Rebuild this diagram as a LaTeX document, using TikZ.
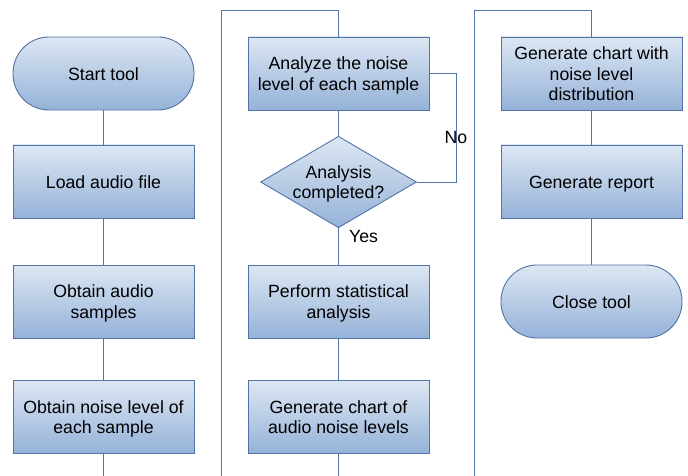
\documentclass[tikz,border=0pt]{standalone}
\usepackage{fontspec}
\setmainfont{Liberation Sans}
\usetikzlibrary{shapes.geometric}
\definecolor{edgeblue}{HTML}{5273A6}
\definecolor{filltop}{HTML}{DDE7F3}
\definecolor{fillbot}{HTML}{95B2D8}
\newcommand{\nodetxt}[1]{\raisebox{-6.8pt}[0pt][0pt]{\begin{tabular}{@{}c@{}}#1\end{tabular}}}
\tikzset{
  base/.style={draw=edgeblue, line width=0.9pt, top color=filltop, bottom color=fillbot,
    font=\fontsize{17.7}{20.5}\selectfont, inner sep=0pt},
  procbox/.style={base, rectangle, minimum width=181pt, minimum height=73pt},
  termbox/.style={base, rectangle, rounded corners=36pt, minimum width=181pt, minimum height=73pt},
  decbox/.style={base, diamond, minimum width=156pt, minimum height=90pt},
  conn/.style={draw=edgeblue, line width=0.9pt},
  lbl/.style={font=\fontsize{17.7}{20.5}\selectfont, inner sep=0pt}
}
\begin{document}
\begin{tikzpicture}[x=1pt, y=-1pt]
\useasboundingbox (0,0) rectangle (688,476);
% column 1
\node[termbox] (start) at (103.5,73.5) {\nodetxt{Start tool}};
\node[procbox] (load) at (103.5,181.5) {\nodetxt{Load audio file}};
\node[procbox] (samples) at (103.5,301.5) {\nodetxt{Obtain audio\\samples}};
\node[procbox] (noise) at (103.5,417) {\nodetxt{Obtain noise level of\\each sample}};
% column 2
\node[procbox] (analyze) at (338.5,73.5) {\nodetxt{Analyze the noise\\level of each sample}};
\node[decbox] (decision) at (338.5,182) {\nodetxt{Analysis\\completed?}};
\node[procbox] (stat) at (338.5,301.5) {\nodetxt{Perform statistical\\analysis}};
\node[procbox] (chartA) at (338.5,417) {\nodetxt{Generate chart of\\audio noise levels}};
% column 3
\node[procbox] (chartB) at (591.5,73.5) {\nodetxt{Generate chart with\\noise level\\distribution}};
\node[procbox] (report) at (591.5,181.5) {\nodetxt{Generate report}};
\node[termbox] (close) at (591.5,301.5) {\nodetxt{Close tool}};
% coordinates
\coordinate (b1) at (103.5,476);
\coordinate (b2) at (221,476);
\coordinate (t2) at (221,10);
\coordinate (b3) at (338.5,476);
\coordinate (b4) at (474,476);
\coordinate (t4) at (474,10);
\coordinate (nox) at (456,182);
% connectors
\draw[conn] (start) -- (load);
\draw[conn] (load) -- (samples);
\draw[conn] (samples) -- (noise);
\draw[conn] (noise) -- (b1);
\draw[conn] (b2) -- (t2) -| (analyze.north);
\draw[conn] (analyze) -- (decision);
\draw[conn] (decision.east) -- (nox) |- (analyze.east);
\draw[conn] (decision.south) -- (stat.north);
\draw[conn] (stat) -- (chartA);
\draw[conn] (chartA) -- (b3);
\draw[conn] (b4) -- (t4) -| (chartB.north);
\draw[conn] (chartB) -- (report);
\draw[conn] (report) -- (close);
% labels
\node[lbl] (nolbl) at (456,137) {No};
\node[lbl, anchor=west] (yeslbl) at (349,236) {Yes};
\end{tikzpicture}
\end{document}
